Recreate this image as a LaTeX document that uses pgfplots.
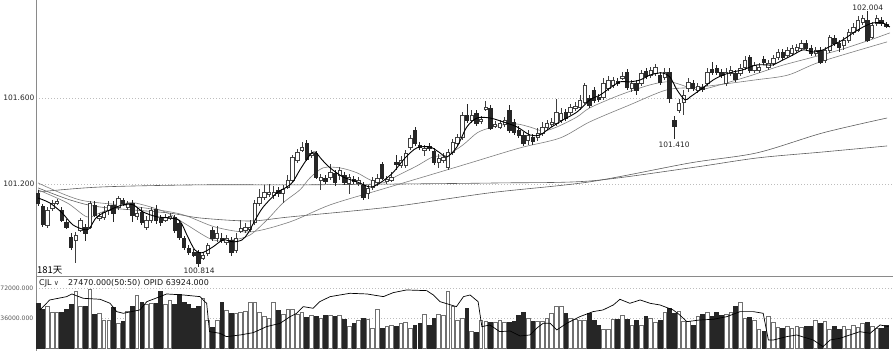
\documentclass[border=0pt]{standalone}
\usepackage{fontspec}
\setmainfont{DejaVu Sans}
\newfontfamily\cjk{Noto Sans CJK SC}
\usepackage{pgfplots}
\usepackage{pgfplotstable}
\pgfplotsset{compat=1.18}

\definecolor{dn}{HTML}{262626}
\definecolor{upe}{HTML}{404040}
\definecolor{upv}{HTML}{707070}
\definecolor{gridc}{HTML}{BDBDBD}
\definecolor{axc}{HTML}{8A8A8A}
\definecolor{mac}{HTML}{7E7E7E}
\definecolor{malong}{HTML}{5E5E5E}

\pgfplotstableread{
x o h l c v
0 101.159 101.173 101.098 101.112 54000
1 101.098 101.107 101.000 101.014 46800
2 101.010 101.093 100.996 101.080 50800
3 101.089 101.126 101.075 101.112 43200
4 101.112 101.131 101.103 101.121 42800
5 101.080 101.093 101.024 101.033 42800
6 101.024 101.038 100.991 101.000 46800
7 100.954 100.972 100.893 100.907 53200
8 100.940 100.977 100.833 100.963 68400
9 100.987 101.042 100.977 101.033 50800
10 101.000 101.014 100.935 100.972 50800
11 101.000 101.121 100.991 101.112 70800
12 101.103 101.121 101.047 101.056 41200
13 101.042 101.066 101.028 101.052 42000
14 101.047 101.098 101.033 101.070 34000
15 101.080 101.121 101.056 101.103 33200
16 101.103 101.121 101.024 101.066 49200
17 101.093 101.145 101.080 101.135 30000
18 101.126 101.135 101.098 101.112 32000
19 101.093 101.121 101.080 101.112 44400
20 101.112 101.126 101.024 101.056 50800
21 101.052 101.089 101.033 101.066 63600
22 101.070 101.093 101.010 101.024 55600
23 101.000 101.052 100.987 101.033 52400
24 101.033 101.093 101.019 101.080 54000
25 101.084 101.103 101.014 101.033 54000
26 101.042 101.056 101.005 101.024 68400
27 101.033 101.061 101.024 101.047 52400
28 101.042 101.066 101.033 101.052 57200
29 101.047 101.056 100.972 100.987 52400
30 101.019 101.033 100.940 100.954 65200
31 100.949 100.959 100.893 100.907 55600
32 100.903 100.917 100.870 100.884 52400
33 100.884 100.898 100.861 100.870 47600
34 100.884 100.893 100.814 100.833 50800
35 100.856 100.884 100.847 100.870 59600
36 100.880 100.926 100.866 100.917 33200
37 100.987 101.000 100.935 100.949 25200
38 100.949 101.005 100.931 100.972 33200
39 100.949 100.972 100.926 100.940 55600
40 100.931 100.963 100.917 100.949 45200
41 100.940 100.954 100.866 100.884 42000
42 100.893 100.972 100.880 100.949 42000
43 100.982 101.033 100.972 100.996 42800
44 100.987 101.019 100.972 101.000 44400
45 100.991 101.033 100.977 101.000 55600
46 101.024 101.126 101.010 101.112 54800
47 101.112 101.177 101.098 101.140 42800
48 101.140 101.196 101.126 101.163 38800
49 101.154 101.200 101.140 101.163 36400
50 101.149 101.191 101.131 101.163 55600
51 101.173 101.186 101.140 101.159 45200
52 101.159 101.196 101.112 101.177 41200
53 101.186 101.242 101.177 101.219 46800
54 101.219 101.335 101.210 101.326 46800
55 101.312 101.363 101.298 101.349 41200
56 101.358 101.396 101.349 101.372 42800
57 101.391 101.405 101.307 101.317 37200
58 101.335 101.358 101.321 101.345 39000
59 101.345 101.354 101.224 101.233 38000
60 101.219 101.247 101.173 101.233 36400
61 101.228 101.242 101.200 101.214 40000
62 101.233 101.293 101.219 101.256 40000
63 101.252 101.266 101.191 101.210 38500
64 101.242 101.279 101.219 101.266 40000
65 101.242 101.256 101.196 101.210 34800
66 101.205 101.247 101.154 101.233 26000
67 101.224 101.238 101.200 101.214 30000
68 101.205 101.233 101.191 101.219 34000
69 101.196 101.210 101.126 101.140 36000
70 101.159 101.196 101.131 101.182 34800
71 101.186 101.233 101.173 101.219 23600
72 101.210 101.247 101.191 101.228 46800
73 101.293 101.303 101.219 101.228 24000
74 101.214 101.238 101.200 101.224 26000
75 101.219 101.256 101.210 101.233 28000
76 101.303 101.335 101.266 101.293 26800
77 101.289 101.331 101.275 101.312 30000
78 101.289 101.358 101.275 101.345 31600
79 101.372 101.428 101.358 101.414 23600
80 101.452 101.465 101.377 101.391 27000
81 101.382 101.396 101.358 101.372 30000
82 101.358 101.382 101.331 101.368 41200
83 101.377 101.391 101.354 101.368 28000
84 101.354 101.368 101.289 101.303 36000
85 101.303 101.340 101.275 101.321 40800
86 101.312 101.345 101.298 101.326 40000
87 101.279 101.363 101.266 101.349 68000
88 101.349 101.410 101.335 101.396 50000
89 101.391 101.433 101.377 101.419 33200
90 101.419 101.535 101.405 101.521 36000
91 101.521 101.572 101.484 101.498 48000
92 101.498 101.545 101.484 101.521 20000
93 101.531 101.545 101.470 101.484 18800
94 101.493 101.517 101.479 101.503 34000
95 101.549 101.586 101.540 101.558 32000
96 101.554 101.568 101.452 101.461 31200
97 101.470 101.493 101.461 101.479 31200
98 101.465 101.498 101.456 101.484 33000
99 101.479 101.512 101.465 101.498 31200
100 101.545 101.568 101.438 101.452 30800
101 101.489 101.503 101.428 101.442 32000
102 101.452 101.470 101.414 101.428 40000
103 101.428 101.442 101.377 101.391 42800
104 101.405 101.452 101.382 101.428 36000
105 101.419 101.433 101.382 101.400 32000
106 101.419 101.461 101.400 101.438 32000
107 101.438 101.489 101.424 101.465 32800
108 101.465 101.498 101.452 101.484 36000
109 101.479 101.507 101.465 101.489 42000
110 101.484 101.596 101.470 101.535 50000
111 101.498 101.554 101.484 101.531 50800
112 101.535 101.549 101.493 101.507 42000
113 101.535 101.572 101.521 101.558 36000
114 101.554 101.582 101.540 101.563 35000
115 101.558 101.614 101.545 101.591 34000
116 101.582 101.670 101.572 101.661 33200
117 101.600 101.614 101.554 101.568 42000
118 101.638 101.651 101.577 101.591 34000
119 101.605 101.619 101.582 101.596 28000
120 101.605 101.693 101.591 101.670 23200
121 101.647 101.703 101.633 101.684 23200
122 101.661 101.698 101.647 101.684 34800
123 101.679 101.693 101.656 101.670 34800
124 101.693 101.721 101.684 101.703 40000
125 101.721 101.735 101.638 101.651 34800
126 101.647 101.684 101.628 101.670 28000
127 101.670 101.684 101.614 101.638 33200
128 101.670 101.731 101.656 101.717 28000
129 101.726 101.740 101.689 101.703 38000
130 101.707 101.744 101.693 101.731 36000
131 101.717 101.758 101.703 101.744 31200
132 101.707 101.721 101.661 101.675 33200
133 101.698 101.740 101.684 101.721 42800
134 101.721 101.740 101.577 101.600 48000
135 101.498 101.517 101.410 101.470 42000
136 101.545 101.596 101.531 101.577 44000
137 101.582 101.638 101.521 101.614 32000
138 101.647 101.693 101.628 101.675 32000
139 101.670 101.684 101.633 101.647 28000
140 101.638 101.670 101.624 101.656 38800
141 101.651 101.665 101.628 101.642 41200
142 101.670 101.740 101.656 101.721 42800
143 101.735 101.768 101.707 101.721 38000
144 101.740 101.754 101.707 101.721 42800
145 101.721 101.735 101.693 101.707 40000
146 101.670 101.740 101.656 101.721 41000
147 101.717 101.749 101.703 101.731 42800
148 101.717 101.731 101.675 101.689 50800
149 101.717 101.758 101.703 101.740 55200
150 101.744 101.796 101.731 101.777 36000
151 101.791 101.800 101.717 101.731 37200
152 101.731 101.768 101.717 101.754 34000
153 101.731 101.763 101.717 101.744 22800
154 101.782 101.796 101.754 101.768 20000
155 101.744 101.777 101.731 101.763 38000
156 101.763 101.800 101.749 101.786 30800
157 101.791 101.828 101.777 101.814 25200
158 101.814 101.828 101.777 101.791 24000
159 101.800 101.837 101.786 101.824 26000
160 101.810 101.847 101.796 101.833 24000
161 101.824 101.851 101.810 101.837 26000
162 101.833 101.870 101.819 101.856 25000
163 101.856 101.870 101.819 101.833 26800
164 101.833 101.847 101.796 101.810 26000
165 101.810 101.837 101.796 101.824 33200
166 101.824 101.837 101.758 101.768 30000
167 101.777 101.837 101.763 101.824 32000
168 101.824 101.893 101.810 101.884 22800
169 101.879 101.893 101.842 101.856 26800
170 101.856 101.870 101.814 101.837 22800
171 101.847 101.884 101.824 101.870 26800
172 101.870 101.921 101.856 101.907 22800
173 101.907 101.949 101.893 101.930 28000
174 101.916 101.982 101.907 101.963 25200
175 101.954 101.986 101.940 101.972 30000
176 101.963 102.004 101.861 101.870 30800
177 101.884 101.954 101.875 101.940 26000
178 101.949 101.986 101.935 101.972 24000
179 101.963 101.977 101.935 101.949 24000
180 101.944 101.954 101.926 101.935 28000
}\candles

\begin{document}
\begin{tikzpicture}
\path[use as bounding box] (0bp,0bp) rectangle (893bp,351bp);
% ---------------- main price panel ----------------
\begin{axis}[
  at={(36bp,75bp)}, anchor=south west, scale only axis,
  width=857bp, height=276bp,
  xmin=-0.42, xmax=181.45, ymin=100.7721, ymax=102.0558,
  axis x line*=bottom, axis y line*=left,
  axis line style={draw=axc, line width=0.8bp},
  xtick=\empty,
  ytick={101.2,101.6}, yticklabels={101.200,101.600},
  major tick length=0pt,
  yticklabel style={font=\fontsize{7.5}{8}\selectfont, text=black!85, inner sep=0pt, xshift=-1.5bp},
  ymajorgrids, grid style={draw=gridc, line width=0.6bp, dash pattern=on 1bp off 2bp},
]
% long moving averages
\addplot[malong, line width=0.6bp, smooth] coordinates {(0,101.163)(13.2,101.186)(34.4,101.196)(55.6,101.196)(76.8,101.200)(98,101.205)(117.1,101.214)(138.4,101.275)(152.6,101.321)(166.6,101.349)(180.2,101.377)};
\addplot[malong, line width=0.6bp, smooth] coordinates {(0,101.182)(6.8,101.126)(13.2,101.093)(27.4,101.066)(34.4,101.042)(45,101.028)(53.5,101.047)(74.7,101.093)(95.9,101.159)(117.1,101.210)(138.4,101.298)(152.6,101.345)(166.6,101.438)(180.2,101.507)};
\addplot[mac, line width=0.6bp, smooth] coordinates {(0,101.205)(8.9,101.126)(19.5,101.098)(30.1,101.061)(37.6,101.000)(45,100.977)(53.5,101.024)(62,101.103)(72.6,101.173)(83.2,101.242)(91.7,101.298)(102.3,101.368)(110.8,101.414)(117.1,101.489)(125.6,101.568)(133.5,101.638)(140.5,101.651)(152.2,101.684)(159.2,101.707)(166,101.768)(180.2,101.861)};
\addplot[mac, line width=0.6bp, smooth] coordinates {(0,101.173)(6.2,101.112)(10.4,101.047)(13.2,101.066)(18.9,101.112)(22.3,101.103)(27.4,101.066)(31.6,101.010)(37.1,100.940)(41.4,100.940)(45,100.963)(48.6,101.033)(52,101.112)(55.6,101.173)(57.7,101.228)(60.5,101.275)(64.1,101.275)(67.7,101.252)(70.5,101.219)(73.2,101.205)(76.2,101.238)(80.4,101.284)(83.8,101.326)(86.8,101.335)(90.2,101.382)(93.2,101.438)(95.9,101.461)(98.7,101.475)(101.7,101.479)(104.4,101.465)(107.2,101.447)(110.1,101.465)(114.4,101.512)(117.1,101.554)(123.5,101.614)(129.9,101.661)(134.1,101.675)(138.4,101.647)(140.5,101.638)(144.7,101.661)(151.1,101.703)(157.5,101.749)(163.8,101.786)(170.2,101.824)(176.6,101.870)(180.8,101.903)};
% candles: wick line and body polygon for each row of the table
\pgfplotsinvokeforeach{0,...,180}{
  \pgfplotstablegetelem{#1}{o}\of\candles \let\cdO\pgfplotsretval
  \pgfplotstablegetelem{#1}{h}\of\candles \let\cdH\pgfplotsretval
  \pgfplotstablegetelem{#1}{l}\of\candles \let\cdL\pgfplotsretval
  \pgfplotstablegetelem{#1}{c}\of\candles \let\cdC\pgfplotsretval
  \ifdim\cdC pt<\cdO pt
    \let\cdlo\cdC \let\cdhi\cdO \def\cdfc{dn}\def\cddc{dn}%
  \else
    \let\cdlo\cdO \let\cdhi\cdC \def\cdfc{white}\def\cddc{upe}%
  \fi
  \pgfmathsetmacro\cdxa{#1-0.36}%
  \pgfmathsetmacro\cdxb{#1+0.36}%
  \edef\cddo{\noexpand\addplot[draw=\cddc, line width=0.55bp] coordinates {(#1,\cdL)(#1,\cdH)};
    \noexpand\addplot[draw=\cddc, fill=\cdfc, line width=0.55bp] coordinates {(\cdxa,\cdlo)(\cdxb,\cdlo)(\cdxb,\cdhi)(\cdxa,\cdhi)} -- cycle;}%
  \cddo
}
% MA5
\addplot[black, line width=0.9bp, smooth] coordinates {(0,101.135)(2.5,101.112)(5.1,101.066)(7.4,101.010)(10,100.987)(11,100.996)(12.5,101.047)(15.3,101.080)(18,101.103)(20.2,101.103)(22.3,101.070)(25.3,101.047)(28,101.042)(30.1,101.028)(31.8,100.954)(33.3,100.893)(34.8,100.880)(37.1,100.907)(39.3,100.940)(41.4,100.931)(43.3,100.940)(44.6,100.972)(46.1,101.033)(47.8,101.093)(50.7,101.159)(52.8,101.186)(54.1,101.210)(55.6,101.266)(57.7,101.335)(58.8,101.349)(60.3,101.312)(62,101.275)(64.7,101.233)(67.7,101.210)(70.5,101.186)(72.6,101.205)(75.3,101.252)(77.9,101.321)(80.4,101.368)(83.2,101.372)(85.3,101.345)(86.8,101.326)(88.9,101.372)(91,101.465)(93.2,101.507)(95.9,101.507)(98.7,101.489)(101.7,101.465)(104.4,101.428)(106.5,101.428)(108.7,101.461)(111.4,101.498)(114.4,101.535)(117.1,101.591)(119.3,101.614)(121.4,101.647)(123.5,101.675)(125.6,101.675)(127.8,101.684)(129.9,101.707)(132.4,101.717)(134.1,101.698)(135.6,101.638)(137.3,101.591)(138.4,101.605)(139.9,101.628)(141.1,101.647)(143.3,101.684)(145.4,101.707)(147.5,101.721)(149.6,101.731)(151.1,101.744)(152.6,101.754)(154.7,101.754)(156,101.754)(158.1,101.777)(160.2,101.800)(162.4,101.824)(164.5,101.814)(166.6,101.824)(168.7,101.847)(170.8,101.870)(173,101.903)(175.1,101.930)(177.2,101.949)(179.3,101.949)(180.8,101.930)};
% labels
\node[font=\fontsize{7.5}{8}\selectfont, text=black!85, inner sep=0pt] at (axis cs:34.2,100.796) {100.814};
\node[font=\fontsize{7.5}{8}\selectfont, text=black!85, inner sep=0pt] at (axis cs:135,101.382) {101.410};
\node[font=\fontsize{7.5}{8}\selectfont, text=black!85, inner sep=0pt] at (axis cs:176.1,102.021) {102.004};
\node[anchor=west, inner sep=0pt, font=\cjk\fontsize{9.5}{10}\selectfont] at (axis description cs:0.0012,0.021) {181天};
\end{axis}
% ---------------- volume panel ----------------
\begin{axis}[
  at={(36bp,0bp)}, anchor=south west, scale only axis,
  width=857bp, height=74bp,
  xmin=-0.42, xmax=181.45, ymin=-3240, ymax=85560,
  axis y line*=left, axis x line=none,
  axis line style={draw=axc, line width=0.8bp},
  xtick=\empty, scaled y ticks=false,
  ytick={36000,72000}, yticklabels={36000.000,72000.000},
  major tick length=0pt,
  yticklabel style={font=\fontsize{6.1}{7}\selectfont, text=black!65, inner sep=0pt, xshift=-2.5bp},
  ymajorgrids, grid style={draw=gridc, line width=0.6bp, dash pattern=on 1bp off 2bp},
]
\pgfplotsinvokeforeach{0,...,180}{
  \pgfplotstablegetelem{#1}{o}\of\candles \let\cdO\pgfplotsretval
  \pgfplotstablegetelem{#1}{c}\of\candles \let\cdC\pgfplotsretval
  \pgfplotstablegetelem{#1}{v}\of\candles \let\cdV\pgfplotsretval
  \ifdim\cdC pt<\cdO pt
    \def\cdfc{dn}\def\cddc{dn}%
  \else
    \def\cdfc{white}\def\cddc{upv}%
  \fi
  \edef\cddo{\noexpand\addplot[ybar, bar width=0.78, bar shift=0pt, draw=\cddc, fill=\cdfc, line width=0.6bp] coordinates {(#1,\cdV)};}%
  \cddo
}
\addplot[black, line width=0.7bp] coordinates {(0.4,46000)(2.5,58000)(6.1,62000)(7.2,65200)(9.6,60000)(13.2,58800)(15.3,54000)(16.7,44000)(18.1,42000)(21.6,46000)(23.1,56000)(25.9,62000)(27.3,65200)(30.8,64000)(34.4,62000)(35.4,56000)(35.8,54000)(36.4,20000)(38.6,18000)(40,14000)(42.9,16000)(45.7,18800)(48.5,26000)(51.4,30000)(53.5,38000)(54.9,42000)(56.3,50000)(58.4,48000)(59.8,56000)(62,62000)(66.2,66000)(69.8,65200)(73.3,62000)(75.4,66800)(78.2,70000)(82.5,69200)(83.9,64000)(85.3,56000)(88.8,50000)(90.3,62000)(91.7,64000)(93.4,56000)(94.2,26000)(95.9,28000)(98,20000)(100.2,20800)(102.3,14800)(104.4,16000)(105.8,24000)(107.2,30000)(108.7,30000)(110.1,22000)(112.2,30000)(115,38000)(117.8,44000)(119.9,46000)(122.1,52000)(123.5,58800)(125.6,54000)(127.8,58000)(129.9,54000)(132,52000)(134.8,46000)(136.2,40000)(137.7,32000)(140.5,34000)(143.3,34800)(146.2,38000)(149,44000)(151.8,44000)(153.9,42000)(155,10000)(156.1,10000)(158.9,14000)(161,16000)(164.5,10000)(166.6,2000)(168.1,10000)(170.2,12000)(174.4,20000)(176.6,18000)(178.7,28000)(180.5,26000)};
\node[anchor=west, inner sep=0pt, font=\fontsize{8}{9}\selectfont, text=black!90] at (axis description cs:0.0035,0.919) {CJL};
\node[inner sep=0pt, font=\fontsize{7}{8}\selectfont, text=black!80] at (axis description cs:0.0239,0.915) {∨};
\node[anchor=west, inner sep=0pt, font=\fontsize{8}{9}\selectfont, text=black!90] at (axis description cs:0.0373,0.919) {27470.000(50:50)};
\node[anchor=west, inner sep=0pt, font=\fontsize{8}{9}\selectfont, text=black!90] at (axis description cs:0.1254,0.919) {OPID 63924.000};
\end{axis}
\end{tikzpicture}
\end{document}
